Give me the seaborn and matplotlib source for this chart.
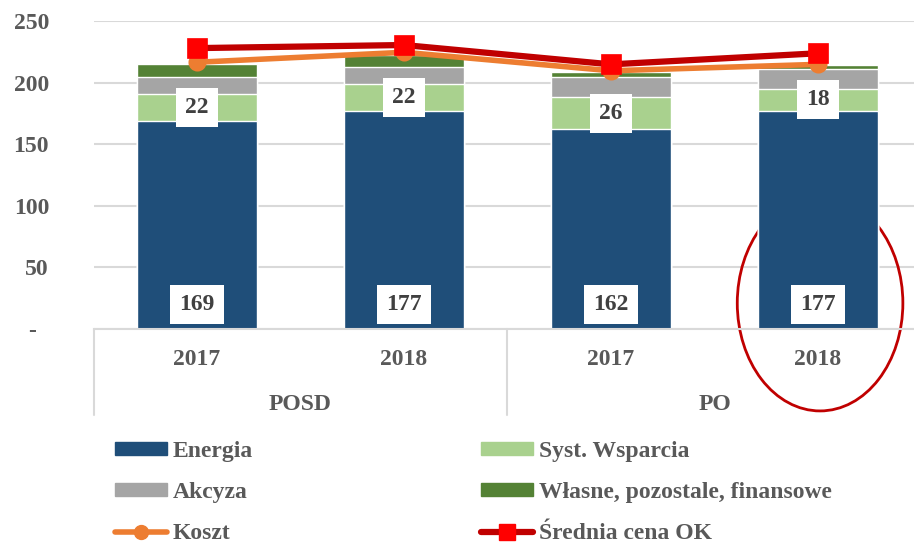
import numpy as np
import pandas as pd
import seaborn as sns
import matplotlib.pyplot as plt
from matplotlib.patches import Patch, Ellipse
from matplotlib.lines import Line2D

# ======================================================
# DATA
# ======================================================
groups = ["POSD", "POSD", "PO", "PO"]
years = ["2017", "2018", "2017", "2018"]
energia = [169, 177, 162, 177]
syst_wsparcia = [22, 22, 26, 18]
akcyza = [13.6, 13.4, 16.8, 16.4]
wlasne = [10.8, 10.0, 4.0, 3.2]
koszt = [216.5, 224.6, 209.6, 214.8]
srednia_cena = [228.0, 230.5, 214.8, 223.8]

y_ticks = [0, 50, 100, 150, 200, 250]
y_ticklabels = ["-  ", "50", "100", "150", "200", "250"]

series_names = ["Energia", "Syst. Wsparcia", "Akcyza", "Własne, pozostale, finansowe"]
series_colors = ["#1F4E79", "#A9D18E", "#A5A5A5", "#548235"]
koszt_color = "#ED7D31"
cena_line = "#C00000"
cena_marker = "#FF0000"

# ======================================================
# TABLE
# ======================================================
df = pd.DataFrame({
    "kat": [f"{g} {y}" for g, y in zip(groups, years)],
    "Energia": energia,
    "Syst. Wsparcia": syst_wsparcia,
    "Akcyza": akcyza,
    "Własne, pozostale, finansowe": wlasne,
})
cum = df[series_names].cumsum(axis=1)

# ======================================================
# PLOT
# ======================================================
sns.set_theme(style="white")
plt.rcParams["font.family"] = ["Liberation Serif", "DejaVu Serif"]
plt.rcParams["font.weight"] = "bold"

fig = plt.figure(figsize=(9.14, 5.43), dpi=100)
ax = fig.add_axes([93.5 / 914, 1 - 329 / 543, 828 / 914, 308 / 543])

# stacked bars: draw cumulative totals, largest first
for name, col in reversed(list(zip(series_names, series_colors))):
    sns.barplot(x=df["kat"], y=cum[name], color=col, saturation=1,
                width=0.58, ax=ax, zorder=2)

sns.pointplot(x=df["kat"], y=koszt, color=koszt_color, markers="o",
              markersize=10, linewidth=4, errorbar=None, ax=ax, zorder=4)
sns.pointplot(x=df["kat"], y=srednia_cena, color=cena_line, markers="s",
              markersize=11, linewidth=4.5, errorbar=None, ax=ax, zorder=5,
              markerfacecolor=cena_marker, markeredgecolor=cena_marker)

ax.set_xlim(-0.5, len(groups) - 0.5)
ax.set_ylim(0, 250)
ax.set_yticks(y_ticks)
ax.set_yticklabels(y_ticklabels)
ax.tick_params(axis="y", length=0, pad=32, labelsize=17, labelcolor="#595959")
ax.set_xticks([])
ax.set_xlabel("")
ax.set_ylabel("")
ax.set_axisbelow(True)
ax.yaxis.grid(True, color="#D9D9D9", linewidth=1.5)
for s in ["top", "right", "left"]:
    ax.spines[s].set_visible(False)
ax.spines["bottom"].set_color("#D9D9D9")
ax.spines["bottom"].set_linewidth(1.5)

# value labels
box = dict(boxstyle="square,pad=0.38", facecolor="white", edgecolor="none")
for i in range(len(energia)):
    ax.text(i, 20, f"{energia[i]:.0f}", ha="center", va="center", fontsize=17,
            color="#404040", bbox=box, zorder=6)
    ax.text(i, energia[i] + syst_wsparcia[i] / 2, f"{syst_wsparcia[i]:.0f}",
            ha="center", va="center", fontsize=17, color="#404040", bbox=box, zorder=6)

# multi-level category axis
tr = ax.get_xaxis_transform()
for i, y in enumerate(years):
    ax.text(i, -0.10, y, transform=tr, ha="center", va="center",
            fontsize=17, color="#595959")
group_names = list(dict.fromkeys(groups))
for gname in group_names:
    idx = [i for i, g in enumerate(groups) if g == gname]
    ax.text(np.mean(idx), -0.245, gname, transform=tr, ha="center", va="center",
            fontsize=17, color="#595959")
for xs in [-0.5, 1.5, 3.5]:
    ax.plot([xs, xs], [0, -0.28], transform=tr, color="#D9D9D9",
            linewidth=1.5, clip_on=False)

# highlight ellipse
ell = Ellipse((3.01, 21), 0.80, 175, fill=False, edgecolor="#C00000",
              linewidth=2, clip_on=False, zorder=1.5)
ax.add_patch(ell)

# legend
h = {
    "Energia": Patch(color=series_colors[0]),
    "Syst. Wsparcia": Patch(color=series_colors[1]),
    "Akcyza": Patch(color=series_colors[2]),
    "Własne, pozostale, finansowe": Patch(color=series_colors[3]),
    "Koszt": Line2D([], [], color=koszt_color, lw=4, marker="o", markersize=10),
    "Średnia cena OK": Line2D([], [], color=cena_line, lw=4.5, marker="s",
                              markersize=11, markerfacecolor=cena_marker,
                              markeredgecolor=cena_marker),
}
order = ["Energia", "Akcyza", "Koszt", "Syst. Wsparcia",
         "Własne, pozostale, finansowe", "Średnia cena OK"]
leg = fig.legend([h[k] for k in order], order, ncol=2, frameon=False,
                 loc="upper left", bbox_to_anchor=(115 / 914, 1 - 441 / 543),
                 fontsize=17, handlelength=2.2, handleheight=0.5,
                 handletextpad=0.25, columnspacing=9.65, labelspacing=0.85,
                 borderpad=0, borderaxespad=0)
for t in leg.get_texts():
    t.set_color("#595959")

fig.savefig("out.png", dpi=100)
